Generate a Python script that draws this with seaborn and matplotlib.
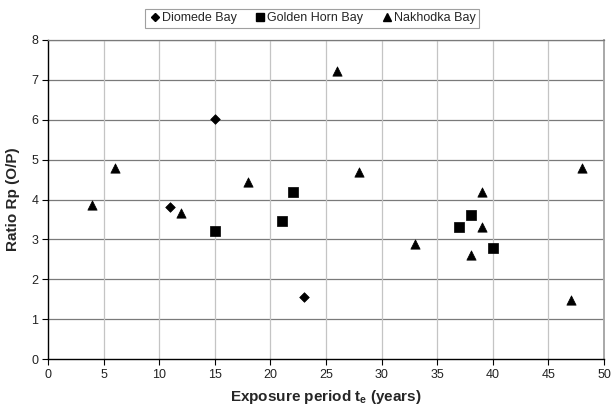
import matplotlib
matplotlib.use("Agg")
import matplotlib.pyplot as plt
import seaborn as sns
import pandas as pd
from matplotlib.lines import Line2D

diomede_x = [11, 15, 23]
diomede_y = [3.8, 6.02, 1.55]
golden_x = [15, 21, 22, 37, 38, 40]
golden_y = [3.2, 3.45, 4.18, 3.3, 3.6, 2.78]
nakhodka_x = [4, 6, 12, 18, 26, 28, 33, 38, 39, 39, 47, 48]
nakhodka_y = [3.87, 4.8, 3.67, 4.43, 7.23, 4.68, 2.88, 2.6, 4.18, 3.3, 1.48, 4.8]
series_names = ["Diomede Bay", "Golden Horn Bay", "Nakhodka Bay"]
x_ticks = list(range(0, 51, 5))
y_ticks = list(range(0, 9))

df = pd.concat([
    pd.DataFrame({"x": diomede_x, "y": diomede_y, "bay": series_names[0]}),
    pd.DataFrame({"x": golden_x, "y": golden_y, "bay": series_names[1]}),
    pd.DataFrame({"x": nakhodka_x, "y": nakhodka_y, "bay": series_names[2]}),
])

sns.set_style("white")
plt.rcParams['font.family'] = ['Liberation Sans', 'DejaVu Sans']

fig = plt.figure(figsize=(6.11, 4.08), dpi=100)
ax = fig.add_axes([48/611, 1-359/408, 556/611, 319/408])

markers = {series_names[0]: "D", series_names[1]: "s", series_names[2]: "^"}
sizes = {series_names[0]: 24, series_names[1]: 45, series_names[2]: 45}
for name in series_names:
    sub = df[df.bay == name]
    sns.scatterplot(data=sub, x="x", y="y", marker=markers[name], color="black",
                    s=sizes[name], edgecolor="black", linewidth=0.5, ax=ax,
                    zorder=3, legend=False)

ax.set_xlim(0, 50)
ax.set_ylim(0, 8)
ax.set_xticks(x_ticks)
ax.set_yticks(y_ticks)
ax.tick_params(axis='both', labelsize=9, length=4, width=0.8, color='black',
               direction='out', bottom=True, left=True, pad=3, labelcolor='#222222')

for y in y_ticks[1:]:
    ax.axhline(y, color='#7a7a7a', lw=0.9, zorder=1)
for x in x_ticks[1:-1]:
    ax.axvline(x, color='#c4c4c4', lw=0.9, zorder=1)

ax.spines['left'].set_color('black')
ax.spines['left'].set_linewidth(1.0)
ax.spines['bottom'].set_color('black')
ax.spines['bottom'].set_linewidth(1.0)
ax.spines['top'].set_color('#7a7a7a')
ax.spines['top'].set_linewidth(0.9)
ax.spines['right'].set_color('#a8a8a8')
ax.spines['right'].set_linewidth(1.4)

ax.set_xlabel("Exposure period t$_\\mathregular{e}$ (years)", fontsize=11, fontweight='bold', labelpad=5)
ax.set_ylabel("Ratio Rp (O/P)", fontsize=11, fontweight='bold', labelpad=8)

handles = [Line2D([], [], marker=markers[n], color='black', linestyle='none',
                  markersize=4 if n == series_names[0] else 5.5) for n in series_names]
leg = fig.legend(handles, series_names, loc='center', bbox_to_anchor=(312/611, 1-18.5/408),
                 ncol=3, fontsize=9, frameon=True, fancybox=False,
                 handletextpad=0.05, columnspacing=1.4, handlelength=1.0,
                 borderpad=0.3, edgecolor='#888888')
leg.get_frame().set_linewidth(0.8)

fig.savefig("out.png", dpi=100)
